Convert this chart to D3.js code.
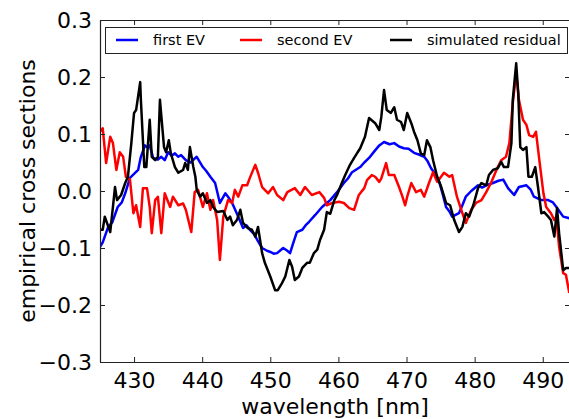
<!DOCTYPE html>
<html>
<head>
<meta charset="utf-8">
<script src="https://cdn.jsdelivr.net/npm/d3@7"></script>
<style>
  html, body { margin: 0; padding: 0; background: #fff; }
  svg { display: block; font-family: "DejaVu Sans", sans-serif; }
</style>
</head>
<body>
<div id="chart"></div>
<script>
// wavelengths [nm] and values, one pair of arrays per series
const firstEvWl = [425.0, 425.4, 426.2, 426.8, 427.6, 428.2, 428.7, 429.4, 430.0, 430.6, 431.0, 431.6, 432.0, 432.3, 432.8, 433.5, 434.0, 434.5, 435.0, 435.5, 436.0, 436.5, 436.9, 437.6, 438.3, 439.0, 439.2, 440.1, 440.6, 441.2, 441.9, 442.6, 443.4, 443.9, 444.4, 445.3, 446.0, 446.5, 447.0, 447.6, 448.1, 448.8, 449.4, 450.0, 450.5, 451.0, 451.5, 451.9, 452.4, 452.9, 453.4, 453.9, 454.7, 455.2, 455.7, 456.6, 457.6, 458.2, 458.8, 459.8, 460.8, 461.4, 462.0, 463.2, 463.8, 464.5, 465.3, 466.0, 466.7, 467.5, 468.2, 468.9, 469.6, 470.3, 471.1, 471.8, 472.6, 473.1, 473.6, 474.2, 474.8, 475.3, 475.8, 476.3, 476.7, 477.2, 477.7, 478.2, 478.7, 479.5, 480.5, 481.1, 481.7, 482.7, 483.5, 484.2, 484.9, 485.8, 486.5, 487.6, 488.2, 488.7, 489.8, 490.8, 491.5, 492.0, 493.0, 494.0]
const firstEvVal = [-0.098, -0.090, -0.063, -0.055, -0.028, -0.020, -0.004, 0.023, 0.030, 0.037, 0.060, 0.080, 0.076, 0.080, 0.058, 0.055, 0.060, 0.054, 0.068, 0.062, 0.066, 0.060, 0.063, 0.054, 0.050, 0.058, 0.060, 0.042, 0.035, 0.025, 0.014, -0.021, -0.004, -0.012, -0.021, -0.045, -0.065, -0.060, -0.068, -0.075, -0.086, -0.100, -0.104, -0.107, -0.110, -0.109, -0.104, -0.100, -0.104, -0.109, -0.090, -0.072, -0.068, -0.060, -0.054, -0.042, -0.028, -0.022, -0.016, -0.002, 0.014, 0.022, 0.033, 0.042, 0.050, 0.058, 0.070, 0.080, 0.086, 0.082, 0.084, 0.078, 0.075, 0.074, 0.067, 0.064, 0.060, 0.052, 0.040, 0.030, 0.016, -0.005, -0.028, -0.036, -0.045, -0.042, -0.039, -0.025, -0.010, 0.000, 0.010, 0.006, 0.010, 0.014, 0.018, 0.020, 0.005, -0.007, 0.007, 0.010, 0.003, -0.010, -0.016, -0.016, -0.020, -0.028, -0.045, -0.048]

const secondEvWl = [425.0, 425.4, 425.9, 426.5, 426.9, 427.4, 427.9, 428.4, 428.8, 429.4, 429.9, 430.3, 430.9, 431.3, 431.9, 432.3, 432.6, 433.1, 433.5, 434.0, 434.5, 435.3, 435.7, 436.5, 437.2, 437.6, 438.4, 438.9, 439.4, 440.1, 440.7, 441.2, 441.6, 442.2, 442.6, 443.1, 443.8, 444.4, 444.8, 445.3, 445.9, 446.6, 447.0, 447.8, 448.2, 448.8, 449.7, 450.4, 451.0, 451.9, 452.5, 453.6, 454.4, 455.1, 456.1, 457.2, 457.9, 458.3, 459.1, 460.1, 460.8, 461.6, 462.3, 463.0, 463.8, 464.2, 464.9, 465.4, 466.0, 466.3, 467.0, 467.4, 468.2, 468.9, 469.4, 469.8, 470.1, 470.7, 471.4, 472.1, 472.6, 473.3, 473.9, 474.5, 475.5, 476.3, 476.7, 477.4, 478.2, 478.7, 479.5, 480.2, 481.0, 481.7, 482.4, 483.2, 483.9, 484.6, 485.1, 485.6, 486.1, 486.5, 487.1, 487.6, 488.0, 488.6, 489.0, 489.5, 490.1, 490.5, 491.2, 491.7, 492.0, 492.4, 493.0, 493.4, 493.9]
const secondEvVal = [0.104, 0.110, 0.049, 0.095, 0.084, 0.037, 0.068, 0.060, 0.025, 0.020, -0.039, -0.025, -0.063, 0.005, 0.005, -0.028, -0.074, -0.016, -0.010, -0.074, -0.004, -0.028, -0.010, -0.025, -0.022, -0.033, -0.072, -0.002, 0.002, -0.028, -0.004, -0.033, -0.016, -0.051, -0.121, -0.045, -0.016, -0.021, 0.002, -0.010, 0.010, 0.010, 0.023, 0.046, 0.032, 0.007, -0.004, 0.007, -0.007, -0.016, -0.002, 0.005, -0.007, 0.007, -0.007, -0.002, -0.012, -0.025, -0.021, -0.019, -0.021, -0.030, -0.033, -0.007, 0.005, 0.019, 0.028, 0.025, 0.016, 0.022, 0.049, 0.028, 0.028, 0.007, -0.010, -0.025, -0.010, 0.014, -0.002, 0.002, -0.010, 0.014, 0.033, 0.016, 0.032, 0.025, 0.028, -0.010, -0.039, -0.056, -0.033, -0.021, -0.016, -0.002, 0.014, 0.037, 0.054, 0.060, 0.084, 0.154, 0.207, 0.160, 0.125, 0.116, 0.098, 0.095, 0.104, 0.054, -0.004, -0.028, -0.039, -0.051, -0.045, -0.098, -0.144, -0.147, -0.179]

const residualWl = [425.0, 425.4, 425.7, 426.5, 426.9, 427.2, 427.5, 428.1, 428.7, 429.1, 429.6, 430.0, 430.3, 430.9, 431.0, 431.5, 431.8, 432.3, 432.6, 433.1, 433.5, 433.8, 434.4, 434.7, 435.1, 435.4, 436.0, 436.5, 437.2, 437.5, 437.9, 438.2, 438.7, 439.0, 439.2, 439.7, 440.1, 440.7, 441.2, 441.6, 442.2, 443.1, 443.7, 444.1, 444.5, 445.1, 445.6, 446.0, 446.7, 447.3, 447.8, 448.2, 448.8, 449.2, 450.0, 450.7, 451.1, 451.7, 452.2, 452.8, 453.2, 453.6, 454.2, 454.7, 455.4, 455.8, 456.4, 456.9, 457.3, 457.9, 458.3, 458.8, 459.4, 459.8, 460.5, 461.0, 461.7, 462.4, 463.2, 463.9, 464.5, 464.8, 465.4, 466.0, 466.3, 466.7, 467.1, 467.7, 468.2, 468.6, 469.2, 469.6, 470.1, 470.7, 471.1, 471.6, 472.1, 472.6, 473.0, 473.5, 473.9, 474.5, 475.1, 475.8, 476.4, 477.0, 477.7, 478.2, 478.7, 479.2, 479.8, 480.5, 481.0, 481.7, 482.1, 482.7, 483.4, 483.9, 484.3, 484.9, 485.4, 485.6, 486.1, 486.4, 486.7, 487.1, 487.6, 487.9, 488.4, 488.9, 489.3, 489.8, 490.2, 490.8, 491.2, 491.7, 492.1, 492.4, 493.0, 493.4, 493.9]
const residualVal = [-0.068, -0.068, -0.045, -0.072, -0.028, 0.007, -0.016, -0.007, 0.014, 0.025, 0.084, 0.137, 0.142, 0.191, 0.160, 0.042, 0.042, 0.125, 0.060, 0.054, 0.060, 0.160, 0.077, 0.068, 0.089, 0.066, 0.042, 0.032, 0.037, 0.049, 0.037, 0.077, 0.042, 0.025, 0.002, -0.010, -0.004, -0.021, -0.016, -0.028, -0.037, -0.035, -0.051, -0.045, -0.060, -0.051, -0.033, -0.056, -0.065, -0.068, -0.080, -0.063, -0.109, -0.126, -0.150, -0.174, -0.174, -0.162, -0.150, -0.121, -0.133, -0.156, -0.150, -0.135, -0.126, -0.126, -0.109, -0.103, -0.086, -0.068, -0.037, -0.040, -0.016, -0.007, 0.014, 0.028, 0.046, 0.060, 0.075, 0.095, 0.128, 0.125, 0.119, 0.107, 0.130, 0.177, 0.142, 0.137, 0.147, 0.125, 0.121, 0.107, 0.137, 0.119, 0.104, 0.089, 0.066, 0.063, 0.089, 0.077, 0.054, 0.025, 0.007, -0.021, -0.025, -0.051, -0.072, -0.063, -0.039, -0.045, -0.025, 0.005, 0.014, 0.010, 0.028, 0.037, 0.040, 0.051, 0.042, 0.042, 0.084, 0.160, 0.224, 0.172, 0.077, 0.072, 0.077, 0.025, 0.025, 0.042, 0.007, -0.039, -0.037, -0.045, -0.051, -0.080, -0.030, -0.074, -0.139, -0.135, -0.135]

const SERIES_NAMES = ["first EV", "second EV", "simulated residual"]
const SERIES_COLORS = ["#0000ff", "#ff0000", "#000000"]
const X_TICKS = [430, 440, 450, 460, 470, 480, 490]
const Y_TICKS = [-0.3, -0.2, -0.1, 0.0, 0.1, 0.2, 0.3]
const X_DOMAIN = [425, 494]
const Y_DOMAIN = [-0.3, 0.3]

const SIZE = { W: 569, H: 419 }
const MARGIN = { TOP: 20, BOTTOM: 57, LEFT: 100, RIGHT: -1 }
const WIDTH = SIZE.W - MARGIN.LEFT - MARGIN.RIGHT
const HEIGHT = SIZE.H - MARGIN.TOP - MARGIN.BOTTOM
const TICK = 5
const FONT = 22

class SpectraChart {
  constructor(element) {
    this.data = [
      d3.zip(firstEvWl, firstEvVal),
      d3.zip(secondEvWl, secondEvVal),
      d3.zip(residualWl, residualVal),
    ]
    this.initSVG(element)
    this.setXY()
    this.drawLines()
    this.drawAxes()
    this.drawLabels()
    this.drawLegend()
  }

  initSVG(element) {
    this.root = d3.select(element)
                  .append("svg")
                  .attr("width", SIZE.W)
                  .attr("height", SIZE.H)
    this.svg = this.root.append("g")
                   .attr("transform", `translate(${MARGIN.LEFT}, ${MARGIN.TOP})`)
    this.svg.append("clipPath")
        .attr("id", "plot-clip")
        .append("rect")
        .attr("width", WIDTH)
        .attr("height", HEIGHT)
  }

  setXY() {
    this.x = d3.scaleLinear().domain(X_DOMAIN).range([0, WIDTH])
    this.y = d3.scaleLinear().domain(Y_DOMAIN).range([HEIGHT, 0])
  }

  drawLines() {
    const line = d3.line()
                   .x(d => this.x(d[0]))
                   .y(d => this.y(d[1]))

    this.svg.append("g")
        .attr("clip-path", "url(#plot-clip)")
        .selectAll("path")
        .data(this.data)
        .enter()
        .append("path")
        .attr("d", line)
        .attr("fill", "none")
        .attr("stroke", (d, i) => SERIES_COLORS[i])
        .attr("stroke-width", 2.5)
        .attr("stroke-linejoin", "round")
  }

  drawAxes() {
    const fmt = d3.format(".1f")
    // matplotlib style: ticks pointing inwards on all four sides
    const bottom = d3.axisBottom(this.x).tickValues(X_TICKS).tickSizeInner(-TICK).tickSizeOuter(0).tickPadding(10)
    const top = d3.axisTop(this.x).tickValues(X_TICKS).tickSizeInner(-TICK).tickSizeOuter(0).tickFormat("")
    const left = d3.axisLeft(this.y).tickValues(Y_TICKS).tickSizeInner(-TICK).tickSizeOuter(0).tickPadding(8).tickFormat(fmt)
    const right = d3.axisRight(this.y).tickValues(Y_TICKS).tickSizeInner(-TICK).tickSizeOuter(0).tickFormat("")

    const groups = [
      this.svg.append("g").attr("transform", `translate(0, ${HEIGHT})`).call(bottom),
      this.svg.append("g").call(top),
      this.svg.append("g").call(left),
      this.svg.append("g").attr("transform", `translate(${WIDTH}, 0)`).call(right),
    ]
    groups.forEach(g => {
      g.select(".domain").attr("stroke", "#222").attr("stroke-width", 1.2)
      g.selectAll(".tick line").attr("stroke", "#222")
      g.selectAll("text")
       .attr("font-family", "DejaVu Sans, sans-serif")
       .attr("font-size", FONT)
       .attr("fill", "#000")
    })
  }

  drawLabels() {
    this.root.append("text")
        .attr("x", MARGIN.LEFT + WIDTH / 2)
        .attr("y", 414)
        .attr("text-anchor", "middle")
        .attr("font-size", FONT)
        .text("wavelength [nm]")

    this.root.append("text")
        .attr("transform", `translate(35, ${MARGIN.TOP + HEIGHT / 2}) rotate(-90)`)
        .attr("text-anchor", "middle")
        .attr("font-size", FONT)
        .text("empirical cross sections")
  }

  drawLegend() {
    const legend = this.root.append("g")
    legend.append("rect")
          .attr("x", 105.5)
          .attr("y", 27.5)
          .attr("width", 462)
          .attr("height", 26)
          .attr("fill", "#fff")
          .attr("stroke", "#222")
          .attr("stroke-width", 1)

    const starts = [116, 240, 390]
    const items = legend.selectAll("g.item")
                        .data(SERIES_NAMES)
                        .enter()
                        .append("g")
                        .attr("transform", (d, i) => `translate(${starts[i]}, 40)`)
    items.append("line")
         .attr("x1", 0)
         .attr("x2", 22)
         .attr("stroke", (d, i) => SERIES_COLORS[i])
         .attr("stroke-width", 2.5)
    items.append("text")
         .attr("x", 37)
         .attr("dy", "0.35em")
         .attr("font-size", 14.5)
         .text(d => d)
  }
}

new SpectraChart("#chart")
</script>
</body>
</html>
